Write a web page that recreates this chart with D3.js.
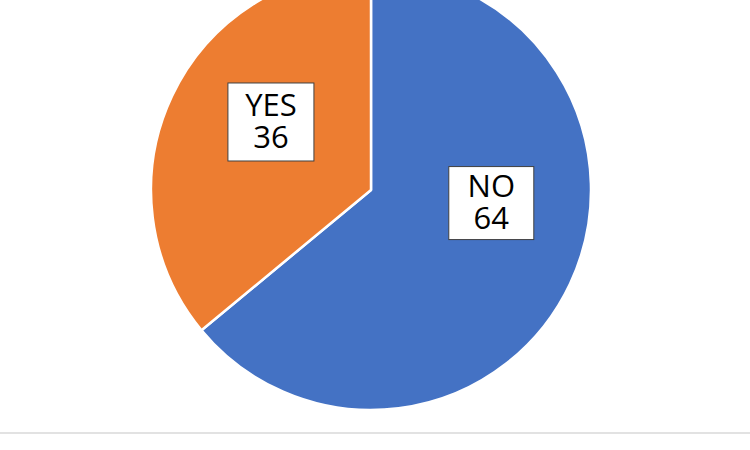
<!DOCTYPE html>
<html>
<head>
<meta charset="utf-8">
<script src="https://cdn.jsdelivr.net/npm/d3@7"></script>
<style>
  body { margin: 0; background: #fff; }
  svg { display: block; }
</style>
</head>
<body>
<svg width="750" height="450"></svg>
<script>
var svg = d3.select("svg"),
    width = +svg.attr("width"),
    height = +svg.attr("height");

// data
var categories = ["NO", "YES"];
var values = [64, 36];
var colors = ["#4472C4", "#ED7D31"];

var cx = 371, cy = 190, radius = 220;

var pie = d3.pie().sort(null).value(function(d) { return d; });
var arc = d3.arc().innerRadius(0).outerRadius(radius);

var g = svg.append("g").attr("transform", "translate(" + cx + "," + cy + ")");

var arcs = pie(values);

g.selectAll("path")
  .data(arcs)
  .enter().append("path")
    .attr("d", arc)
    .attr("fill", function(d, i) { return colors[i]; })
    .attr("stroke", "#fff")
    .attr("stroke-width", 2.5)
    .attr("stroke-linejoin", "round");

// labels sit a bit off the slice mid-angle, like the original
var labelR = radius * 0.55;
var angleShift = [-19, 9];   // degrees
var boxW = [85, 86], boxH = [73, 78];

var label = g.selectAll("g.label")
  .data(arcs)
  .enter().append("g")
    .attr("class", "label")
    .attr("transform", function(d, i) {
      var a = (d.startAngle + d.endAngle) / 2 + angleShift[i] * Math.PI / 180;
      return "translate(" + (Math.sin(a) * labelR) + "," + (-Math.cos(a) * labelR) + ")";
    });

label.append("rect")
  .attr("x", function(d, i) { return -boxW[i] / 2; })
  .attr("y", function(d, i) { return -boxH[i] / 2; })
  .attr("width", function(d, i) { return boxW[i]; })
  .attr("height", function(d, i) { return boxH[i]; })
  .attr("fill", "#fff")
  .attr("stroke", "#404040")
  .attr("stroke-width", 1);

label.append("text")
  .attr("text-anchor", "middle")
  .attr("font-family", "'Open Sans', 'Liberation Sans', sans-serif")
  .attr("font-size", 31)
  .attr("fill", "#000")
  .attr("y", -6)
  .text(function(d, i) { return categories[i]; });

label.append("text")
  .attr("text-anchor", "middle")
  .attr("font-family", "'Open Sans', 'Liberation Sans', sans-serif")
  .attr("font-size", 31)
  .attr("fill", "#000")
  .attr("y", 26)
  .text(function(d) { return d.value; });

// bottom divider
svg.append("line")
  .attr("x1", 0).attr("x2", width)
  .attr("y1", 433).attr("y2", 433)
  .attr("stroke", "#d9d9d9")
  .attr("stroke-width", 1.5);
</script>
</body>
</html>
